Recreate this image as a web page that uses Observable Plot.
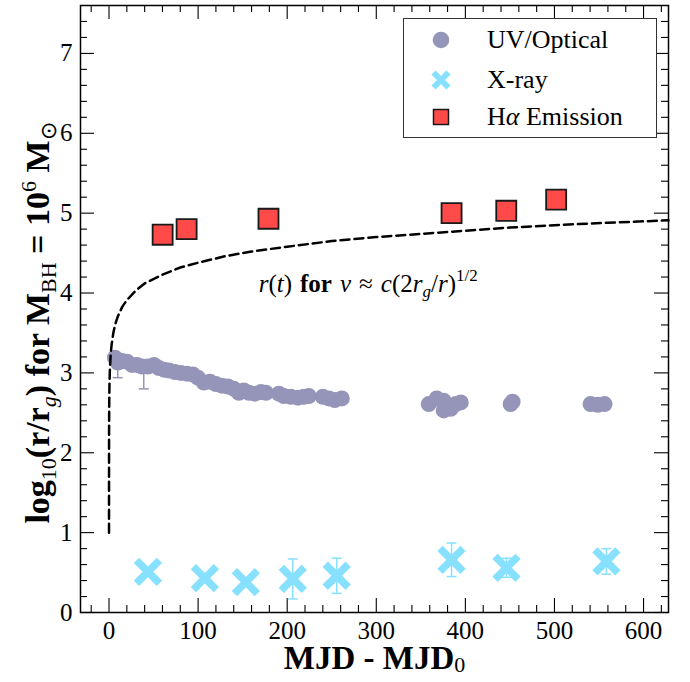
<!DOCTYPE html>
<html><head><meta charset="utf-8">
<script src="https://cdn.jsdelivr.net/npm/d3@7"></script>
<script src="https://cdn.jsdelivr.net/npm/@observablehq/plot@0.6"></script>
<style>
body{margin:0;background:#fff;}
#wrap{position:relative;width:690px;height:682px;font-family:"Liberation Serif",serif;}
#wrap svg{display:block;}
#legend{position:absolute;left:403px;top:18px;width:254px;height:120px;border:1.4px solid #333;background:#fff;box-sizing:border-box;}
.item{position:absolute;left:0;width:100%;height:30px;}
.item svg{position:absolute;left:22px;top:3px;}
.item span{position:absolute;left:83px;top:0;line-height:30px;font-size:26px;color:#000;white-space:nowrap;}
</style></head><body><div id="wrap"></div>
<script>
// ---- data ----
const uvMJD = [6.7,10.1,14.6,20.2,25.8,31.4,37.0,43.7,50.5,56.1,61.7,67.3,74.0,80.7,87.5,94.2,99.8,106.5,113.3,120.0,126.7,133.5,140.2,145.8,151.4,157.0,163.7,170.5,176.1,190.6,196.3,204.1,212.0,218.7,224.3,240.0,246.7,253.5,261.3,358.9,367.8,375.7,375.7,383.5,389.1,394.8,450.8,453.0,540.5,548.4,556.2];
const uvLog = [3.19,3.13,3.15,3.14,3.10,3.10,3.08,3.08,3.10,3.06,3.04,3.03,3.01,3.00,2.99,2.98,2.94,2.88,2.89,2.86,2.84,2.83,2.80,2.75,2.78,2.75,2.74,2.76,2.75,2.74,2.71,2.70,2.69,2.70,2.71,2.70,2.68,2.66,2.68,2.61,2.68,2.65,2.53,2.55,2.61,2.63,2.61,2.64,2.61,2.60,2.61];
const uvErrMJD = [9.8, 39.0];
const uvErrLog = [3.09, 2.96];
const uvErr = [0.15, 0.16];

const xrayMJD = [43.7,107.6,153.6,206.3,255.6,384.5,446.2,558.3];
const xrayLog = [0.51,0.43,0.38,0.42,0.46,0.66,0.56,0.64];
const xrayErr = [0.03,0.05,0.03,0.25,0.22,0.21,0.12,0.16];

const haMJD = [60.2,87.1,179.0,384.5,445.9,501.9];
const haLog = [4.73,4.80,4.93,5.00,5.03,5.17];

const curveMJD = [0,0.05,0.2,0.5,1,2,3,5,7,10,15,20,30,40,60,80,100,130,160,200,250,300,350,400,450,500,560,628];
const curveLog = [1.0,2.18,2.58,2.85,3.05,3.25,3.36,3.51,3.61,3.71,3.83,3.91,4.03,4.12,4.23,4.32,4.38,4.46,4.52,4.58,4.65,4.70,4.74,4.78,4.82,4.85,4.88,4.91];

const xTicks = [0,100,200,300,400,500,600];
const yTicks = [0,1,2,3,4,5,6,7];
const xMinor = d3.range(-20, 621, 20).filter(v => v % 100 !== 0);
const yMinor = d3.range(1, 38).map(i => +(i * 0.2).toFixed(1)).filter(v => Math.abs(v - Math.round(v)) > 1e-6);

const annotations = [{t: 168, y: 4.11, key: "§ANN§"}];

const seriesNames = ["UV/Optical", "X-ray", "H\u03b1 Emission"];
const colUV = "#9595B9", colX = "#87E0FE", colHa = "#FF4A4A";

// ---- tables ----
const uv = uvMJD.map((t, i) => ({t, y: uvLog[i]}));
const uvE = uvErrMJD.map((t, i) => ({t, y: uvErrLog[i], e: uvErr[i]}));
const xr = xrayMJD.map((t, i) => ({t, y: xrayLog[i], e: xrayErr[i]}));
const ha = haMJD.map((t, i) => ({t, y: haLog[i]}));
const curve = curveMJD.map((t, i) => ({t, y: curveLog[i]}));

const capSym = {draw(ctx, size) { const w = Math.sqrt(size / Math.PI); ctx.moveTo(-w, 0); ctx.lineTo(w, 0); }};
const font = "Liberation Serif, serif";

const W = 690, H = 682, mT = 5, mR = 22, mB = 70, mL = 80;
const FH = H - mT - mB, FW = W - mL - mR;
const tk = {stroke: "black", strokeWidth: 1.1};
const ticksX = (data, len) => [
  Plot.tickX(data, {x: d => d, insetTop: FH - len, ...tk}),
  Plot.tickX(data, {x: d => d, insetBottom: FH - len, ...tk})
];
const ticksY = (data, len) => [
  Plot.tickY(data, {y: d => d, insetRight: FW - len, ...tk}),
  Plot.tickY(data, {y: d => d, insetLeft: FW - len, ...tk})
];

const plot = Plot.plot({
  width: W, height: H,
  marginTop: mT, marginRight: mR, marginBottom: mB, marginLeft: mL,
  style: {fontFamily: font, background: "white", color: "black", overflow: "visible"},
  x: {domain: [-32, 628]},
  y: {domain: [0, 7.6]},
  marks: [
    Plot.axisX(xTicks, {tickSize: 0, tickPadding: 9, fontSize: 25, label: null, tickFormat: d => String(d)}),
    Plot.axisY(yTicks, {tickSize: 0, tickPadding: 8, fontSize: 25, label: null, tickFormat: d => String(d)}),
    ...ticksX(xTicks, 14), ...ticksX(xMinor, 7),
    ...ticksY(yTicks, 14), ...ticksY(yMinor, 7),
    // error bars
    Plot.ruleX(uvE, {x: "t", y1: d => d.y - d.e, y2: d => d.y + d.e, stroke: colUV, strokeWidth: 1.5}),
    Plot.dot(uvE, {x: "t", y: d => d.y - d.e, symbol: capSym, r: 5, fill: "none", stroke: colUV, strokeWidth: 1.5}),
    Plot.dot(uvE, {x: "t", y: d => d.y + d.e, symbol: capSym, r: 5, fill: "none", stroke: colUV, strokeWidth: 1.5}),
    Plot.ruleX(xr, {x: "t", y1: d => d.y - d.e, y2: d => d.y + d.e, stroke: colX, strokeWidth: 1.5}),
    Plot.dot(xr, {x: "t", y: d => d.y - d.e, symbol: capSym, r: 5, fill: "none", stroke: colX, strokeWidth: 1.5}),
    Plot.dot(xr, {x: "t", y: d => d.y + d.e, symbol: capSym, r: 5, fill: "none", stroke: colX, strokeWidth: 1.5}),
    // points
    Plot.dot(uv, {x: "t", y: "y", r: 8, fill: colUV, stroke: "none"}),
    Plot.dot(xr, {x: "t", y: "y", symbol: "times", r: 10.5, stroke: colX, strokeWidth: 7.5}),
    Plot.dot(ha, {x: "t", y: "y", symbol: "square", r: 11.3, fill: colHa, stroke: "#1a1a1a", strokeWidth: 1.8}),
    // model curve
    Plot.line(curve, {x: "t", y: "y", stroke: "black", strokeWidth: 2.5, strokeDasharray: "9,5"}),
    Plot.text(annotations, {x: "t", y: "y", text: "key", textAnchor: "start", fontSize: 25, fill: "black"}),
    Plot.frame({stroke: "black", strokeWidth: 1.5}),
    Plot.text(["§XL§"], {text: d => d, frameAnchor: "bottom", textAnchor: "middle", dy: 56, fontSize: 33, fontWeight: "bold", fill: "black"}),
    Plot.text(["§YL§"], {text: d => d, frameAnchor: "left", textAnchor: "middle", dx: -42, dy: 14, rotate: -90, fontSize: 34, fontWeight: "bold", fill: "black"})
  ]
});

const rich = {
  "§XL§": 'MJD - MJD<tspan font-size="22" font-weight="normal" dy="3">0</tspan>',
  "§YL§": 'log<tspan font-size="22" font-weight="normal" dy="7">10</tspan><tspan dy="-7">(r/r</tspan><tspan font-size="22" font-style="italic" font-weight="normal" dy="7">g</tspan><tspan dy="-7">) for M</tspan><tspan font-size="22" font-weight="normal" dy="7">BH</tspan><tspan dy="-7"> = 10</tspan><tspan font-size="22" font-weight="normal" dy="-13">6</tspan><tspan dy="13"> M</tspan><tspan font-size="22" font-weight="normal" dy="7">\u2299</tspan>',
  "§ANN§": '<tspan font-style="italic">r</tspan>(<tspan font-style="italic">t</tspan>)<tspan dx="8" font-weight="bold">for</tspan><tspan dx="8" font-style="italic">v</tspan><tspan dx="8">\u2248</tspan><tspan dx="8" font-style="italic">c</tspan>(2<tspan font-style="italic">r</tspan><tspan font-style="italic" font-size="17" dy="5">g</tspan><tspan dy="-5">/</tspan><tspan font-style="italic">r</tspan>)<tspan font-size="17" dy="-11">1/2</tspan>'
};
plot.querySelectorAll("text").forEach(el => {
  const k = el.textContent;
  if (rich[k]) el.innerHTML = rich[k];
});

const wrap = document.getElementById("wrap");
wrap.appendChild(plot);

// legend
const leg = document.createElement("div");
leg.id = "legend";
const icons = [
  `<svg width="30" height="24"><circle cx="15" cy="12" r="8.3" fill="${colUV}"/></svg>`,
  `<svg width="30" height="24"><path d="M7.5,4.5L22.5,19.5M22.5,4.5L7.5,19.5" stroke="${colX}" stroke-width="6"/></svg>`,
  `<svg width="30" height="24"><rect x="7.5" y="4.5" width="15" height="15" fill="${colHa}" stroke="#1a1a1a" stroke-width="1.5"/></svg>`
];
const rowsY = [21, 61, 98];
seriesNames.forEach((name, i) => {
  const it = document.createElement("div");
  it.className = "item";
  it.style.top = (rowsY[i] - 15) + "px";
  const label = i === 2 ? 'H<i>\u03b1</i> Emission' : name;
  it.innerHTML = icons[i] + `<span>${label}</span>`;
  leg.appendChild(it);
});
wrap.appendChild(leg);
</script>
</body></html>
